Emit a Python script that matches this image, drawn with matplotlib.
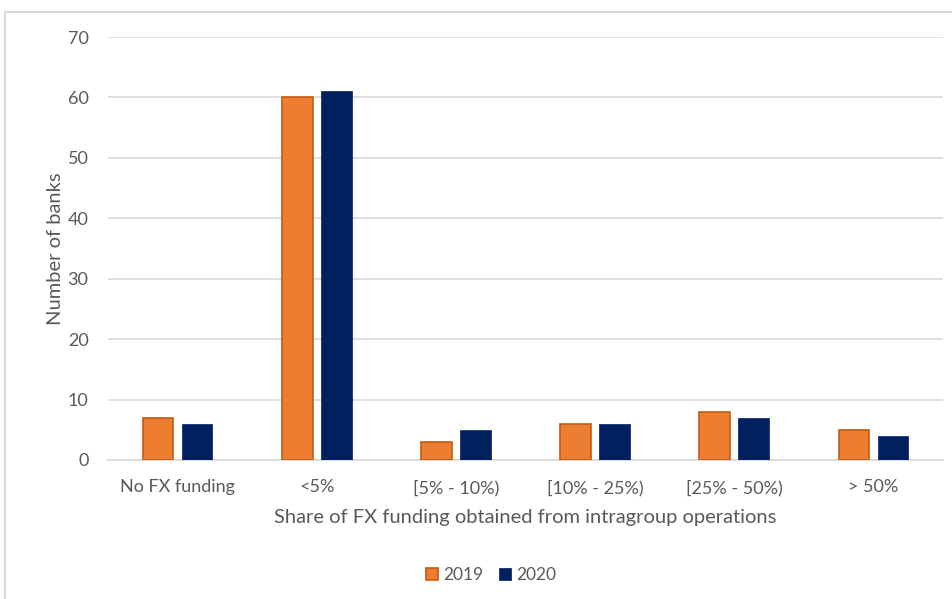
import matplotlib
matplotlib.use("Agg")
import matplotlib.pyplot as plt
import numpy as np
from matplotlib.lines import Line2D

categories = ["No FX funding", "<5%", "[5% - 10%)", "[10% - 25%)", "[25% - 50%)", "> 50%"]
series_names = ["2019", "2020"]
values_2019 = [7, 60, 3, 6, 8, 5]
values_2020 = [6, 61, 5, 6, 7, 4]

plt.rcParams['font.family'] = ['Lato', 'DejaVu Sans']
W, H = 953, 599
fig = plt.figure(figsize=(W/100, H/100), dpi=100)
ax = fig.add_axes([108/W, 1-460/H, (943-108)/W, (460-37)/H])

x = np.arange(len(categories))
bw = 0.22
gap = 0.06
ax.bar(x - (bw+gap)/2, values_2019, bw, color="#ED7D31", edgecolor="#C55A11", linewidth=1.2, label=series_names[0], zorder=3)
ax.bar(x + (bw+gap)/2, values_2020, bw, color="#002060", edgecolor="#002060", linewidth=0.5, label=series_names[1], zorder=3)

ax.set_xlim(-0.5, len(categories)-0.5)
ax.set_ylim(0, 70)
ax.set_yticks(range(0, 71, 10))
ax.set_xticks(x)
ax.set_xticklabels(categories)
ax.yaxis.grid(True, color="#D9D9D9", linewidth=1.2, zorder=0)
ax.set_axisbelow(True)
for s in ["top", "right", "left"]:
    ax.spines[s].set_visible(False)
ax.spines["bottom"].set_color("#D9D9D9")
ax.spines["bottom"].set_linewidth(1.2)
ax.tick_params(axis="both", length=0, labelsize=13, labelcolor="#595959")
ax.tick_params(axis="y", pad=14)
ax.tick_params(axis="x", pad=14)
ax.set_xlabel("Share of FX funding obtained from intragroup operations", fontsize=14.5, color="#595959", labelpad=9)
ax.set_ylabel("Number of banks", fontsize=14.5, color="#595959", labelpad=3)

leg = fig.legend(loc="center", bbox_to_anchor=(491/W, 1-575/H), ncol=2, frameon=False,
                 fontsize=12.5, handlelength=0.7, handleheight=0.7, columnspacing=0.9, handletextpad=0.3)
for t in leg.get_texts():
    t.set_color("#595959")

# outer frame
fig.add_artist(Line2D([5/W, 5/W], [0, 1-12/H], color="#D9D9D9", linewidth=1.5, transform=fig.transFigure))
fig.add_artist(Line2D([5/W, 1], [1-12/H, 1-12/H], color="#D9D9D9", linewidth=1.5, transform=fig.transFigure))

fig.savefig("out.png", dpi=100)
